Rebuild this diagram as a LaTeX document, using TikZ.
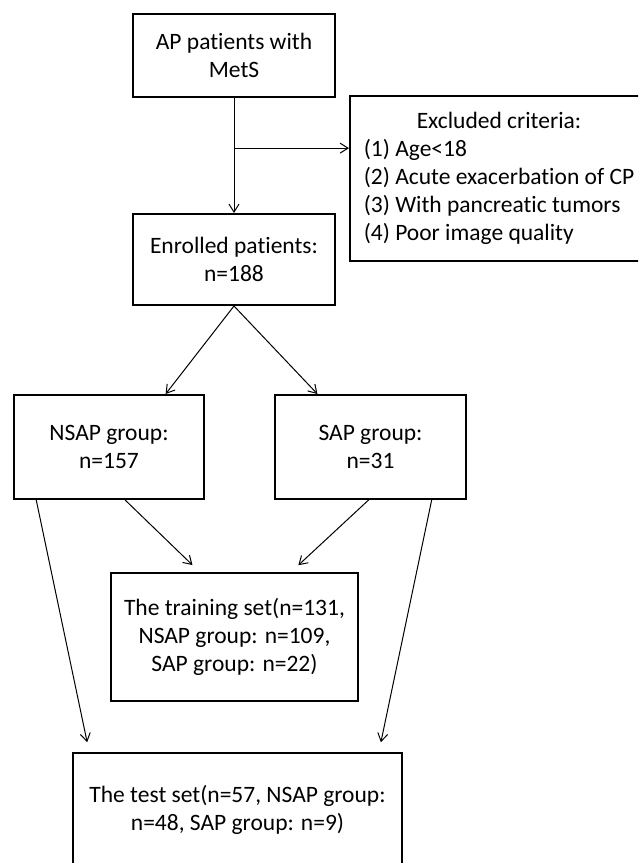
\documentclass[tikz,border=0pt]{standalone}
\usepackage{fontspec}
\setmainfont{Carlito}[Ligatures=NoCommon]
\usetikzlibrary{arrows.meta,calc}
\begin{document}
\begin{tikzpicture}[x=1pt,y=-1pt,
  box/.style={draw,line width=2pt,inner sep=0pt,align=center,font=\fontsize{23.5}{28}\selectfont},
  arr/.style={line width=1pt,-{Straight Barb[length=8pt,width=10pt]}}]
\fill[white] (0,0) rectangle (638,863);
\path[use as bounding box] (0,0) rectangle (638,863);
\clip (0,0) rectangle (638,863);
\node[box,minimum width=202pt,minimum height=83pt] (ap) at (234,55.5) {AP patients with\\MetS};
\node[box,minimum width=298pt,minimum height=165pt] (excl) at (499,178.5)
  {\begin{tabular}{@{}l@{}}\multicolumn{1}{@{}c@{}}{Excluded criteria:}\\(1) Age<18\\(2) Acute exacerbation of CP\\(3) With pancreatic tumors\\(4) Poor image quality\end{tabular}};
\node[box,minimum width=202pt,minimum height=91pt] (enr) at (234,259.5) {Enrolled patients:\\n=188};
\node[box,minimum width=190pt,minimum height=104pt] (nsap) at (109,447) {NSAP group:\\n=157};
\node[box,minimum width=191pt,minimum height=104pt] (sap) at (370.5,447) {SAP group:\\n=31};
\node[box,minimum width=247pt,minimum height=128pt] (train) at (234.5,637) {The training set(n=131,\\NSAP group: n=109,\\SAP group: n=22)};
\node[box,minimum width=329pt,minimum height=114pt] (test) at (237.5,810) {The test set(n=57, NSAP group:\\n=48, SAP group: n=9)};
\coordinate (br) at ($(ap.south)!0.436!(enr.north)$);
\draw[arr] (ap.south) -- (enr.north);
\draw[arr] (br) -- (br -| excl.west);
\draw[arr] (enr.south) -- ($(nsap.north west)!0.795!(nsap.north east)$);
\draw[arr] (enr.south) -- ($(sap.north west)!0.225!(sap.north east)$);
\draw[arr,shorten >=10pt] ($(nsap.south west)!0.584!(nsap.south east)$) -- ($(train.north west)!0.36!(train.north east)$);
\draw[arr,shorten >=10pt] ($(sap.south west)!0.49!(sap.south east)$) -- ($(train.north west)!0.727!(train.north east)$);
\draw[arr,shorten >=10pt] ($(nsap.south west)!0.121!(nsap.south east)$) -- ($(test.north west)!0.052!(test.north east)$);
\draw[arr,shorten >=10pt] ($(sap.south west)!0.817!(sap.south east)$) -- ($(test.north west)!0.927!(test.north east)$);
\end{tikzpicture}
\end{document}
